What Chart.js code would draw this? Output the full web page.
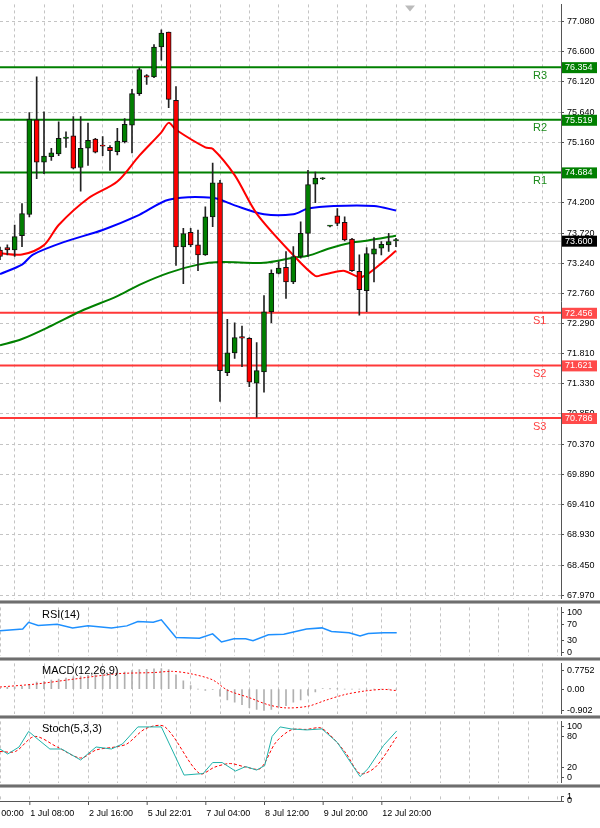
<!DOCTYPE html>
<html><head><meta charset="utf-8">
<script src="https://cdn.jsdelivr.net/npm/chart.js@4/dist/chart.umd.min.js"></script>
<style>
body{margin:0;background:#fff;width:600px;height:828px;overflow:hidden;position:relative;font-family:"Liberation Sans",Arial,sans-serif}
canvas{position:absolute;left:0}
.sep{position:absolute;left:0;width:600px;height:2px;background:#6e6e6e;border-top:1px solid #b0b0b0;border-bottom:1px solid #b0b0b0;z-index:5}
.wrap{position:absolute;left:0;width:600px}
</style></head><body>
<div class="wrap" style="top:-4px;height:611px"><canvas id="main"></canvas></div>
<div class="wrap" style="top:599px;height:65px"><canvas id="rsi"></canvas></div>
<div class="wrap" style="top:655px;height:67px"><canvas id="macd"></canvas></div>
<div class="wrap" style="top:713px;height:78px"><canvas id="stoch"></canvas></div>
<div class="wrap" style="top:788px;height:40px"><canvas id="bottom"></canvas></div>
<div class="sep" style="top:600px"></div>
<div class="sep" style="top:657px"></div>
<div class="sep" style="top:715px"></div>
<div class="sep" style="top:784px"></div>
<script>
// ---- DATA ----
const opens  = [73.45,73.491,73.454,73.680,74.016,75.518,74.846,74.935,74.977,75.224,75.266,74.762,75.067,75.214,75.103,75.082,75.014,75.172,75.434,75.933,76.222,76.201,76.674,76.910,75.828,73.501,73.732,73.533,73.375,73.979,74.520,71.505,71.820,72.078,72.052,71.337,71.516,72.472,73.081,73.176,72.944,73.349,73.717,74.499,74.583,73.832,73.995,73.890,73.627,73.113,72.808,73.386,73.480,73.533,73.600];
const highs  = [73.50,73.533,73.848,74.189,75.634,76.201,75.644,75.067,75.487,75.329,75.571,75.571,75.466,75.224,75.251,75.108,75.382,75.539,76.002,76.343,76.238,76.711,76.947,76.910,76.044,73.795,73.795,73.769,74.137,74.830,74.557,72.351,72.298,72.246,72.062,71.983,72.729,73.139,73.270,73.428,73.507,73.900,74.715,74.688,74.600,73.845,74.111,73.979,73.638,73.375,73.491,73.648,73.585,73.717,73.638];
const lows   = [73.30,73.375,73.349,73.507,73.979,74.583,74.662,74.872,74.951,75.082,74.741,74.384,74.794,74.993,74.951,74.715,74.962,75.151,74.993,75.907,76.080,76.186,76.464,75.713,73.207,72.918,73.507,73.123,73.365,73.822,71.048,71.458,71.731,71.600,71.285,70.801,71.195,72.298,73.071,72.682,72.918,73.323,73.349,74.205,74.570,73.820,73.837,73.596,73.113,72.419,72.472,72.944,73.375,73.428,73.507];
const closes = [73.35,73.454,73.664,74.032,75.529,74.846,74.941,74.993,75.224,75.245,74.752,75.067,75.193,75.004,75.100,75.030,75.182,75.445,75.933,76.317,76.196,76.674,76.895,75.844,73.501,73.711,73.533,73.375,73.979,74.520,71.537,71.820,72.062,72.052,71.353,71.537,72.472,73.081,73.165,72.944,73.349,73.717,74.489,74.594,74.590,73.836,73.874,73.612,73.123,72.824,73.396,73.470,73.543,73.585,73.600];

const maFastIdx = [0,3,6,8,12,16,19,22,23,24,28,29,32,35,40,43,44,46,47,49,50,52,54];
const maFastVal = [73.40,73.38,73.53,73.85,74.27,74.54,74.95,75.32,75.47,75.36,75.08,75.06,74.64,74.03,73.37,73.04,73.06,73.11,73.12,73.02,73.06,73.24,73.44];
const maMidIdx  = [0,3,4.5,9,14,19,23,29,32,36,40,42,45.5,51,54];
const maMidVal  = [73.07,73.22,73.38,73.59,73.77,74.01,74.25,74.28,74.16,74.02,74.02,74.11,74.15,74.15,74.08];
const maSlowIdx = [0,3,7,11,16,19,23,27,30,36,40,42,45,48,50,54];
const maSlowVal = [71.94,72.04,72.25,72.48,72.72,72.90,73.09,73.22,73.26,73.25,73.33,73.36,73.48,73.57,73.60,73.68];

const levelNames  = ["R3","R2","R1","S1","S2","S3"];
const levelValues = [76.354,75.519,74.684,72.456,71.621,70.786];
const lastPrice = 73.600;
const priceTicks = [77.080,76.600,76.120,75.640,75.160,74.680,74.200,73.720,73.240,72.760,72.290,71.810,71.330,70.850,70.370,69.890,69.410,68.930,68.450,67.970];

const rsiIdx = [0,3.1,3.9,5.2,7.8,9.9,12,15.2,17.3,18.8,20.9,22,24,27.2,29,30.2,31.9,33.5,34.5,36.6,38.7,41.8,43.9,45.2,47.6,49.1,50.2,52.3,54.1];
const rsiVal = [55,59,76,68,71,62,67,62,67,78,76,82,38,36,47,27,35,35,30,45,46,59,62,53,50,42,48,50,50];

const macdHist = [0.05,0.08,0.1,0.12,0.2,0.3,0.32,0.38,0.42,0.47,0.52,0.55,0.58,0.6,0.62,0.65,0.7,0.72,0.78,0.82,0.84,0.86,0.87,0.82,0.6,0.35,0.15,0.0,-0.05,-0.02,-0.3,-0.45,-0.55,-0.65,-0.78,-0.85,-0.9,-0.85,-0.75,-0.7,-0.55,-0.45,-0.25,-0.12,0.02,0.01,0.01,0,0,0,0,0,0,0,0];
const macdSigIdx = [0,5,10,16,21,23.5,26,29,31,34,36.6,39,42,44.4,47,49.7,52.3,54];
const macdSigVal = [0.09,0.22,0.42,0.65,0.70,0.75,0.65,0.39,-0.04,-0.36,-0.66,-0.79,-0.72,-0.47,-0.23,-0.08,-0.01,-0.06];
const macdTicks = [0.7752,0,-0.902];

const stochIdx = [0,1.05,2.6,3.9,5.2,6.8,8.4,11,13.1,15.2,16.7,18.8,22,25.1,27.7,29,30.3,32.1,33.5,35,36.1,37.1,38.2,39.7,41.8,43.9,46,49.1,50.2,52.3,54.1];
const stochVal = [56,46,60,91,75,56,56,34,60,56,66,100,100,4,7,29,29,12,21,14,23,81,100,96,94,96,69,1,17,63,92];
const stochSigIdx = [0,2.1,4.7,7.8,11,13.1,15.7,17.3,19.9,22.5,27.2,29.3,31.4,33.5,35.5,37.6,39.7,41.8,43.9,47,49.1,51.2,54.1];
const stochSigVal = [51,51,81,60,38,54,60,66,97,100,7,20,27,20,17,69,94,95,97,51,7,20,80];

const dateTickIdx = [-4,4,12,20,28,36,44,52];
const dateTickLbl = ["30 Jun 00:00","1 Jul 08:00","2 Jul 16:00","5 Jul 22:01","7 Jul 04:00","8 Jul 12:00","9 Jul 20:00","12 Jul 20:00"];

// ---- COMMON ----
const FONT = '"Liberation Sans", Arial, sans-serif';
const XMIN = 0, XMAX = 76.5;
const pts = (xs, ys) => xs.map((x, i) => ({x, y: ys[i]}));
function xScale(){
  return {type:'linear',min:XMIN,max:XMAX,offset:false,
    afterBuildTicks:s=>{const t=[];for(let v=0;v<=XMAX;v+=4)t.push({value:v});s.ticks=t;},
    ticks:{display:false},afterFit:s=>{s.height=0;},
    grid:{color:'#c4c4c4',lineWidth:1,drawTicks:false},border:{display:false,dash:[3,3]}};
}
function yScale(min,max,ticks,grid,fmt){
  return {type:'linear',position:'right',min,max,
    afterBuildTicks:s=>{s.ticks=ticks.map(v=>({value:v}));},
    afterFit:s=>{s.width=39;},
    ticks:{color:'#000',font:{family:FONT,size:9},padding:3,autoSkip:false,callback:fmt},
    grid:{display:true,drawOnChartArea:grid,color:'#c4c4c4',tickLength:3,tickColor:'#555'},
    border:{display:true,color:'#555',dash:grid?[3,3]:[]}};
}
const baseOpts = (scales,pad) => ({responsive:true,maintainAspectRatio:false,animation:false,
  layout:{padding:pad},plugins:{legend:{display:false},tooltip:{enabled:false}},scales});
function title(text){
  return {id:'title',afterDraw(c){const ctx=c.ctx;ctx.save();ctx.font='11px '+FONT;ctx.fillStyle='#000';
    ctx.textBaseline='top';ctx.fillText(text,42,c.chartArea.top+2);ctx.restore();}};
}

// ---- MAIN ----
const levelPlugin = {id:'levels',
  beforeDatasetsDraw(c){const ctx=c.ctx,y=c.scales.y,a=c.chartArea;ctx.save();
    const py=y.getPixelForValue(lastPrice);ctx.strokeStyle='#c8c8c8';ctx.lineWidth=1;
    ctx.beginPath();ctx.moveTo(a.left,py+0.5);ctx.lineTo(a.right,py+0.5);ctx.stroke();
    levelValues.forEach((v,i)=>{const p=y.getPixelForValue(v);const col=i<3?'#008000':'#ff3838';
      ctx.strokeStyle=col;ctx.lineWidth=2;ctx.beginPath();ctx.moveTo(a.left,p);ctx.lineTo(a.right,p);ctx.stroke();});
    ctx.restore();},
  afterDraw(c){const ctx=c.ctx,y=c.scales.y,a=c.chartArea;ctx.save();
    ctx.font='11px '+FONT;ctx.textBaseline='top';
    levelValues.forEach((v,i)=>{const p=y.getPixelForValue(v);ctx.fillStyle=i<3?'#1a8a1a':'#ff4040';
      ctx.fillText(levelNames[i],533,p+3);});
    const box=(v,bg,txt)=>{const p=y.getPixelForValue(v);ctx.fillStyle=bg;ctx.fillRect(a.right+1,p-5,35,11);
      ctx.fillStyle='#fff';ctx.font='9px '+FONT;ctx.textBaseline='middle';ctx.fillText(txt,a.right+4,p+0.5);};
    levelValues.forEach((v,i)=>box(v,i<3?'#008000':'#ff4a4a',v.toFixed(3)));
    box(lastPrice,'#000',lastPrice.toFixed(3));
    ctx.fillStyle='#bbb';ctx.beginPath();ctx.moveTo(405,a.top+1);ctx.lineTo(415,a.top+1);ctx.lineTo(410,a.top+7);ctx.fill();
    ctx.restore();}};
new Chart(document.getElementById('main'),{type:'bar',
  data:{datasets:[
    {type:'bar',order:0,grouped:false,barThickness:5,minBarLength:1,data:pts(opens.map((_,i)=>i),opens.map((o,i)=>[o,closes[i]])),
      backgroundColor:opens.map((o,i)=>closes[i]>=o?'#008000':'#ff0000'),borderColor:'#111',borderWidth:1,borderSkipped:false},
    {type:'bar',order:1,grouped:false,barThickness:1,data:pts(lows.map((_,i)=>i),lows.map((l,i)=>[l,highs[i]])),backgroundColor:'#222'},
    {type:'line',order:2,data:pts(maFastIdx,maFastVal),borderColor:'#ff0000',borderWidth:2,pointRadius:0,tension:0.3},
    {type:'line',order:2,data:pts(maMidIdx,maMidVal),borderColor:'#0000ff',borderWidth:2,pointRadius:0,tension:0.3},
    {type:'line',order:2,data:pts(maSlowIdx,maSlowVal),borderColor:'#008000',borderWidth:2,pointRadius:0,tension:0.3}
  ]},
  options:baseOpts({x:xScale(),y:yScale(67.92,77.35,priceTicks,true,v=>v.toFixed(3))},{top:0,bottom:0,left:0,right:0}),
  plugins:[levelPlugin]});

// ---- RSI ----
new Chart(document.getElementById('rsi'),{type:'line',
  data:{datasets:[{data:pts(rsiIdx,rsiVal),borderColor:'#1e90ff',borderWidth:1.5,pointRadius:0}]},
  options:baseOpts({x:xScale(),y:yScale(-7,113,[100,70,30,0],false,v=>String(v))},{top:0,bottom:0}),
  plugins:[title('RSI(14)')]});

// ---- MACD ----
new Chart(document.getElementById('macd'),{type:'bar',
  data:{datasets:[
    {type:'line',order:0,data:pts(macdSigIdx,macdSigVal),borderColor:'#ff0000',borderWidth:1,borderDash:[2,2],pointRadius:0,tension:0.3},
    {type:'bar',order:1,barThickness:1,data:pts(macdHist.map((_,i)=>i),macdHist),backgroundColor:'#b0b0b0'}]},
  options:baseOpts({x:xScale(),y:yScale(-1.03,1.085,macdTicks,false,v=>v===0?'0.00':String(v))},{top:0,bottom:0}),
  plugins:[title('MACD(12,26,9)')]});

// ---- STOCH ----
new Chart(document.getElementById('stoch'),{type:'line',
  data:{datasets:[
    {data:pts(stochIdx,stochVal),borderColor:'#20b2aa',borderWidth:1,pointRadius:0},
    {data:pts(stochSigIdx,stochSigVal),borderColor:'#ff0000',borderWidth:1,borderDash:[3,2],pointRadius:0,tension:0.3}]},
  options:baseOpts({x:xScale(),y:yScale(-11,111,[100,80,20,0],false,v=>String(v))},{top:0,bottom:0}),
  plugins:[title('Stoch(5,3,3)')]});

// ---- BOTTOM / DATE AXIS ----
new Chart(document.getElementById('bottom'),{type:'line',
  data:{datasets:[{data:[]}]},
  options:baseOpts({x:xScale(),y:yScale(0,1,[1,0],false,v=>String(v))},{top:0,bottom:27}),
  plugins:[{id:'dates',afterDraw(c){const ctx=c.ctx,x=c.scales.x,a=c.chartArea;ctx.save();
    ctx.strokeStyle='#555';ctx.beginPath();ctx.moveTo(0,a.bottom+0.5);ctx.lineTo(a.right,a.bottom+0.5);ctx.stroke();
    ctx.font='9px '+FONT;ctx.fillStyle='#000';ctx.textBaseline='top';
    dateTickIdx.forEach((v,i)=>{const p=x.getPixelForValue(v);ctx.strokeStyle='#555';ctx.beginPath();
      ctx.moveTo(p+0.5,a.bottom);ctx.lineTo(p+0.5,a.bottom+4);ctx.stroke();ctx.fillText(dateTickLbl[i],p+1,a.bottom+8);});
    ctx.restore();}}]});
</script></body></html>
